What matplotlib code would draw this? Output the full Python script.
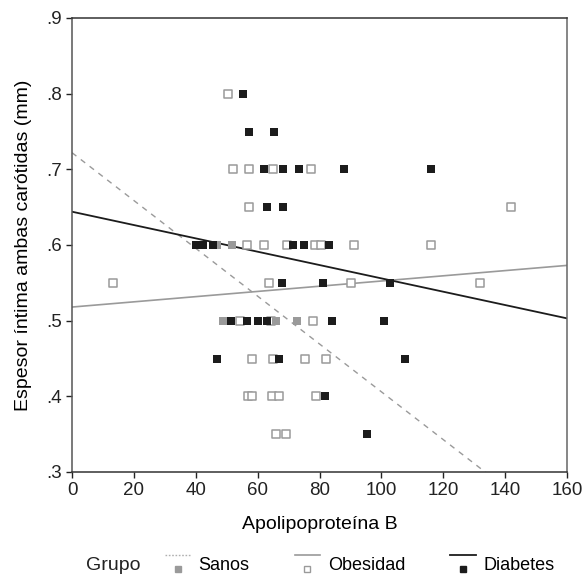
import numpy as np
import matplotlib
matplotlib.use('Agg')
import matplotlib.pyplot as plt
from matplotlib.lines import Line2D
from matplotlib.legend_handler import HandlerBase

plt.rcParams['font.family'] = ['Liberation Sans', 'DejaVu Sans']

#------------------------------------------------------------
# values
sanos_x = [47.0, 51.6, 48.9, 65.9, 72.6]
sanos_y = [0.60, 0.60, 0.50, 0.50, 0.50]

obes_x = [50.5,
          52.1, 57.1, 64.9, 77.1,
          57.1, 141.9,
          56.5, 62.1, 69.4, 78.5, 80.4, 91.1, 116.2,
          13.4, 63.8, 90.1, 132.0,
          54.4, 64.2, 78.0,
          58.1, 65.1, 75.3, 82.0,
          57.0, 58.3, 64.6, 67.0, 78.9,
          65.9, 69.1]
obes_y = [0.80,
          0.70, 0.70, 0.70, 0.70,
          0.65, 0.65,
          0.60, 0.60, 0.60, 0.60, 0.60, 0.60, 0.60,
          0.55, 0.55, 0.55, 0.55,
          0.50, 0.50, 0.50,
          0.45, 0.45, 0.45, 0.45,
          0.40, 0.40, 0.40, 0.40, 0.40,
          0.35, 0.35]

diab_x = [55.4,
          57.3, 65.2,
          62.2, 68.1, 73.5, 88.0, 116.2,
          63.1, 68.1,
          40.1, 42.2, 45.5, 71.5, 75.0, 83.2,
          68.0, 81.2, 102.9,
          51.5, 56.5, 60.2, 62.9, 84.1, 100.9,
          47.0, 67.0, 107.7,
          81.9,
          95.4]
diab_y = [0.80,
          0.75, 0.75,
          0.70, 0.70, 0.70, 0.70, 0.70,
          0.65, 0.65,
          0.60, 0.60, 0.60, 0.60, 0.60, 0.60,
          0.55, 0.55, 0.55,
          0.50, 0.50, 0.50, 0.50, 0.50, 0.50,
          0.45, 0.45, 0.45,
          0.40,
          0.35]

# fitted lines (intercept, slope) per group
groups = ['Sanos', 'Obesidad', 'Diabetes']
fit_intercept = [0.722, 0.518, 0.644]
fit_slope = [-0.00316, 0.000344, -0.000881]

#------------------------------------------------------------
GRAY = '#9a9a9a'
BLACK = '#1c1c1c'

fig = plt.figure(figsize=(5.87, 5.79), dpi=100)
ax = fig.add_axes([72 / 587, 1 - 472 / 579, 495 / 587, 454 / 579])

xx = np.linspace(0, 160, 200)
line_styles = [dict(color=GRAY, lw=1.0, ls=(0, (4, 4))),
               dict(color=GRAY, lw=1.2, ls='-'),
               dict(color=BLACK, lw=1.3, ls='-')]
for b, m, st in zip(fit_intercept, fit_slope, line_styles):
    ax.plot(xx, b + m * xx, **st, zorder=2)

ms = 30
ax.scatter(obes_x, obes_y, s=ms, marker='s', facecolor='white',
           edgecolor=GRAY, linewidth=1.1, zorder=3)
ax.scatter(sanos_x, sanos_y, s=ms, marker='s', color=GRAY, linewidth=0, zorder=3)
ax.scatter(diab_x, diab_y, s=ms, marker='s', color=BLACK, linewidth=0, zorder=4)

ax.set_xlim(0, 160)
ax.set_ylim(0.3, 0.9)
ax.set_xticks(np.arange(0, 161, 20))
ax.set_yticks(np.arange(0.3, 0.91, 0.1))
ax.set_yticklabels(['.3', '.4', '.5', '.6', '.7', '.8', '.9'])
ax.tick_params(direction='out', length=4, width=1, labelsize=13.5,
               colors='#222222')
for s in ax.spines.values():
    s.set_color('#333333')
    s.set_linewidth(1.1)
ax.spines['right'].set_color('#666666')
ax.spines['left'].set_color('#555555')

ax.set_xlabel('Apolipoproteína B', fontsize=14, labelpad=12)
ax.set_ylabel('Espesor íntima ambas carótidas (mm)', fontsize=14, labelpad=10)


#------------------------------------------------------------
# legend: line on top of a small square, like the SPSS key
class LineSquare(HandlerBase):
    def create_artists(self, legend, orig_handle, xdescent, ydescent,
                       width, height, fontsize, trans):
        st, face, edge = orig_handle
        ln = Line2D([0, width], [height + 2, height + 2], transform=trans, **st)
        sq = Line2D([width / 2], [height * 0.1], marker='s', markersize=5,
                    markerfacecolor=face, markeredgecolor=edge,
                    markeredgewidth=1, transform=trans, ls='none')
        return [ln, sq]


handles = [(dict(color='#b0b0b0', lw=1.0, ls=(0, (1.2, 1.2))), GRAY, GRAY),
           (dict(color=GRAY, lw=1.2, ls='-'), 'white', GRAY),
           (dict(color=BLACK, lw=1.3, ls='-'), BLACK, BLACK)]
leg = fig.legend(handles, groups, handler_map={tuple: LineSquare()},
                 loc='center left', bbox_to_anchor=(165 / 587, 1 - 566 / 579),
                 ncol=3, frameon=False, fontsize=13, handlelength=1.4,
                 handletextpad=0.45, columnspacing=2.5, borderpad=0,
                 borderaxespad=0)
fig.text(86 / 587, 1 - 566 / 579, 'Grupo', fontsize=14, va='center',
         ha='left', color='#222222')

fig.savefig('out.png', dpi=100, facecolor='white')
